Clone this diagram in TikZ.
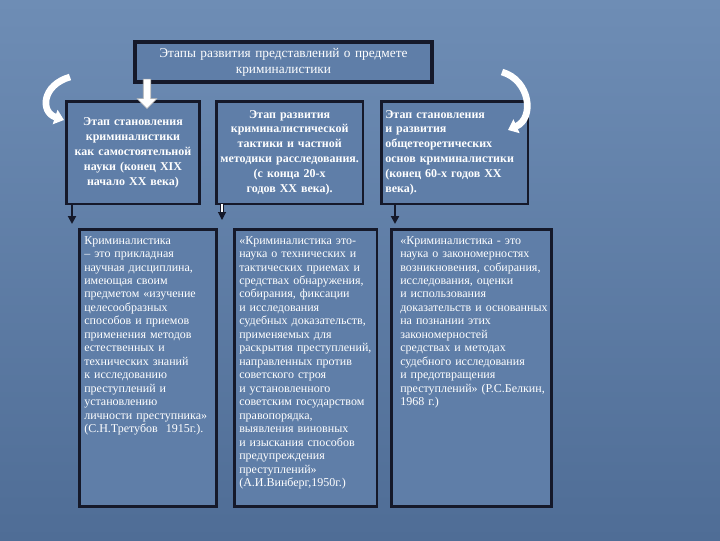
\documentclass[tikz,border=0pt]{standalone}
\usepackage{fontspec}
\setmainfont{Liberation Serif}
\usetikzlibrary{arrows.meta,shapes.arrows}
\definecolor{bgA}{HTML}{6E8DB5}
\definecolor{bgB}{HTML}{4F6D96}
\definecolor{boxc}{HTML}{5F7EA8}
\definecolor{edge}{HTML}{15192A}
\tikzset{
  top/.style={draw=edge,line width=2pt,fill=boxc,minimum width=#1,text width=#1-6pt,align=center,font=\fontsize{9}{11.2}\selectfont\bfseries,text=white,inner sep=2pt,anchor=north west,minimum height=77pt},
  bot/.style={draw=edge,line width=2pt,fill=boxc,minimum width=#1,anchor=north west,minimum height=208pt},
  bott/.style={text width=#1,align=left,font=\fontsize{9}{10.1}\selectfont,text=white,inner sep=0pt,anchor=north west},
  dar/.style={-{Triangle[width=6pt,length=6pt]},line width=1.6pt,edge}
}
\begin{document}
\begin{tikzpicture}[x=0.75pt,y=-0.75pt]
\shade[top color=bgA,bottom color=bgB] (0,0) rectangle (720,540);
\useasboundingbox (0,0) rectangle (720,540);
\node[draw=edge,line width=3pt,fill=boxc,minimum width=222pt,minimum height=30pt,text width=216pt,align=center,text=white,font=\fontsize{10}{12}\selectfont,anchor=north west] (title) at (133,40) {Этапы развития представлений о~предмете\\криминалистики};
\node[top=100pt] (t1) at (65,100) {Этап становления криминалистики как самостоятельной науки (конец XIX начало XX века)};
\node[top=110pt] (t2) at (215,100) {Этап развития криминалистической тактики и частной методики расследования. (с конца 20-х годов XX века).};
\node[top=110pt,align=left] (t3) at (380,100) {Этап становления и развития общетеоретических основ криминалистики (конец 60-х годов XX века).};
\node[bot=103pt] (b1) at (78,228) {};
\node[bot=107pt] (b2) at (233,228) {};
\node[bot=120pt] (b3) at (390,228) {};
\node[bott=95pt] (b1t) at (84,236) {Криминалистика – это прикладная научная дисциплина, имеющая своим предметом «изучение целесообразных способов и приемов применения методов естественных и технических знаний к исследованию преступлений и установлению личности преступника» (С.Н.Третубов\ \ 1915г.).};
\node[bott=100pt] (b2t) at (239,236) {«Криминалистика это-наука о технических и тактических приемах и средствах обнаружения, собирания, фиксации и исследования судебных доказательств, применяемых для раскрытия преступлений, направленных против советского строя и установленного советским государством правопорядка, выявления виновных и изыскания способов предупреждения преступлений» (А.И.Винберг,1950г.)};
\node[bott=112pt] (b3t) at (400,236) {«Криминалистика - это наука о закономерностях возникновения, собирания, исследования, оценки и использования доказательств и основанных на познании этих закономерностей средствах и методах судебного исследования и предотвращения преступлений» (Р.С.Белкин, 1968 г.)};
\coordinate (a1) at (72,204); \coordinate (a1e) at (72,224);
\coordinate (a2) at (222,204); \coordinate (a2e) at (222,220);
\coordinate (a3) at (395,204); \coordinate (a3e) at (395,224);
\draw[dar] (a1) -- (a1e);
\draw[dar] (a3) -- (a3e);
\draw[edge,line width=0.8pt,double,double distance=1pt,-{Triangle[width=6pt,length=6pt]}] (a2) -- (a2e);
\coordinate (c1s) at (70,77); \coordinate (c1e) at (64,120);
\draw[white,line width=5pt,-{Triangle[width=11pt,length=7pt]}] (c1s) .. controls (42,85) and (40,112) .. (c1e);
\coordinate (c2s) at (502,72); \coordinate (c2e) at (508,130);
\draw[white,line width=5pt,-{Triangle[width=11pt,length=7pt]}] (c2s) .. controls (530,80) and (535,118) .. (c2e);
\node[single arrow,draw=gray!60,fill=white,shape border rotate=270,minimum height=22pt,minimum width=15pt,single arrow head extend=2pt,inner sep=1pt] (wa) at (147,92) {};
\end{tikzpicture}
\end{document}
